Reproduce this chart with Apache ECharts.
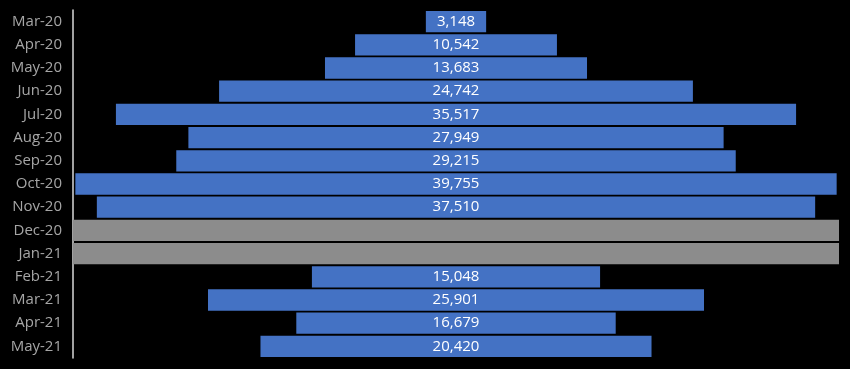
<!DOCTYPE html>
<html>
<head>
<meta charset="utf-8">
<script src="https://cdn.jsdelivr.net/npm/echarts@6/dist/echarts.min.js"></script>
<style>html,body{margin:0;padding:0;background:#000;}#c{width:850px;height:369px;}</style>
</head>
<body>
<div id="c"></div>
<script>
var categories = ['Mar-20','Apr-20','May-20','Jun-20','Jul-20','Aug-20','Sep-20','Oct-20','Nov-20','Dec-20','Jan-21','Feb-21','Mar-21','Apr-21','May-21'];
var values = [3148, 10542, 13683, 24742, 35517, 27949, 29215, 39755, 37510, null, null, 15048, 25901, 16679, 20420];
var axisMax = 40000;

var offsets = values.map(function(v){ return v == null ? 0 : (axisMax - v) / 2; });
var grayFill = values.map(function(v){ return v == null ? axisMax : null; });

var chart = echarts.init(document.getElementById('c'));
chart.setOption({
  backgroundColor: '#000',
  animation: false,
  grid: {left: 73, right: 11, top: 10, bottom: 11, containLabel: false},
  xAxis: {type: 'value', min: 0, max: axisMax, show: false},
  yAxis: {
    type: 'category', data: categories, inverse: true,
    axisLine: {show: true, lineStyle: {color: '#d9d9d9', width: 1.5}},
    axisTick: {show: false},
    axisLabel: {color: '#a6a6a6', fontSize: 15, fontFamily: '"Open Sans", Lato, sans-serif', margin: 11, padding: [3, 0, 0, 0]}
  },
  series: [
    {type: 'bar', stack: 's', data: offsets, itemStyle: {color: 'transparent'}, barCategoryGap: '8%', silent: true},
    {type: 'bar', stack: 's', data: values, itemStyle: {color: '#4472C4'},
     label: {show: true, position: 'inside', color: '#fff', fontSize: 15, fontFamily: '"Open Sans", Lato, sans-serif', padding: [3, 0, 0, 0],
       formatter: function(p){ return p.value == null ? '' : p.value.toLocaleString('en-US'); }}},
    {type: 'bar', stack: 's', data: grayFill, itemStyle: {color: '#8c8c8c'}}
  ]
});
</script>
</body>
</html>
